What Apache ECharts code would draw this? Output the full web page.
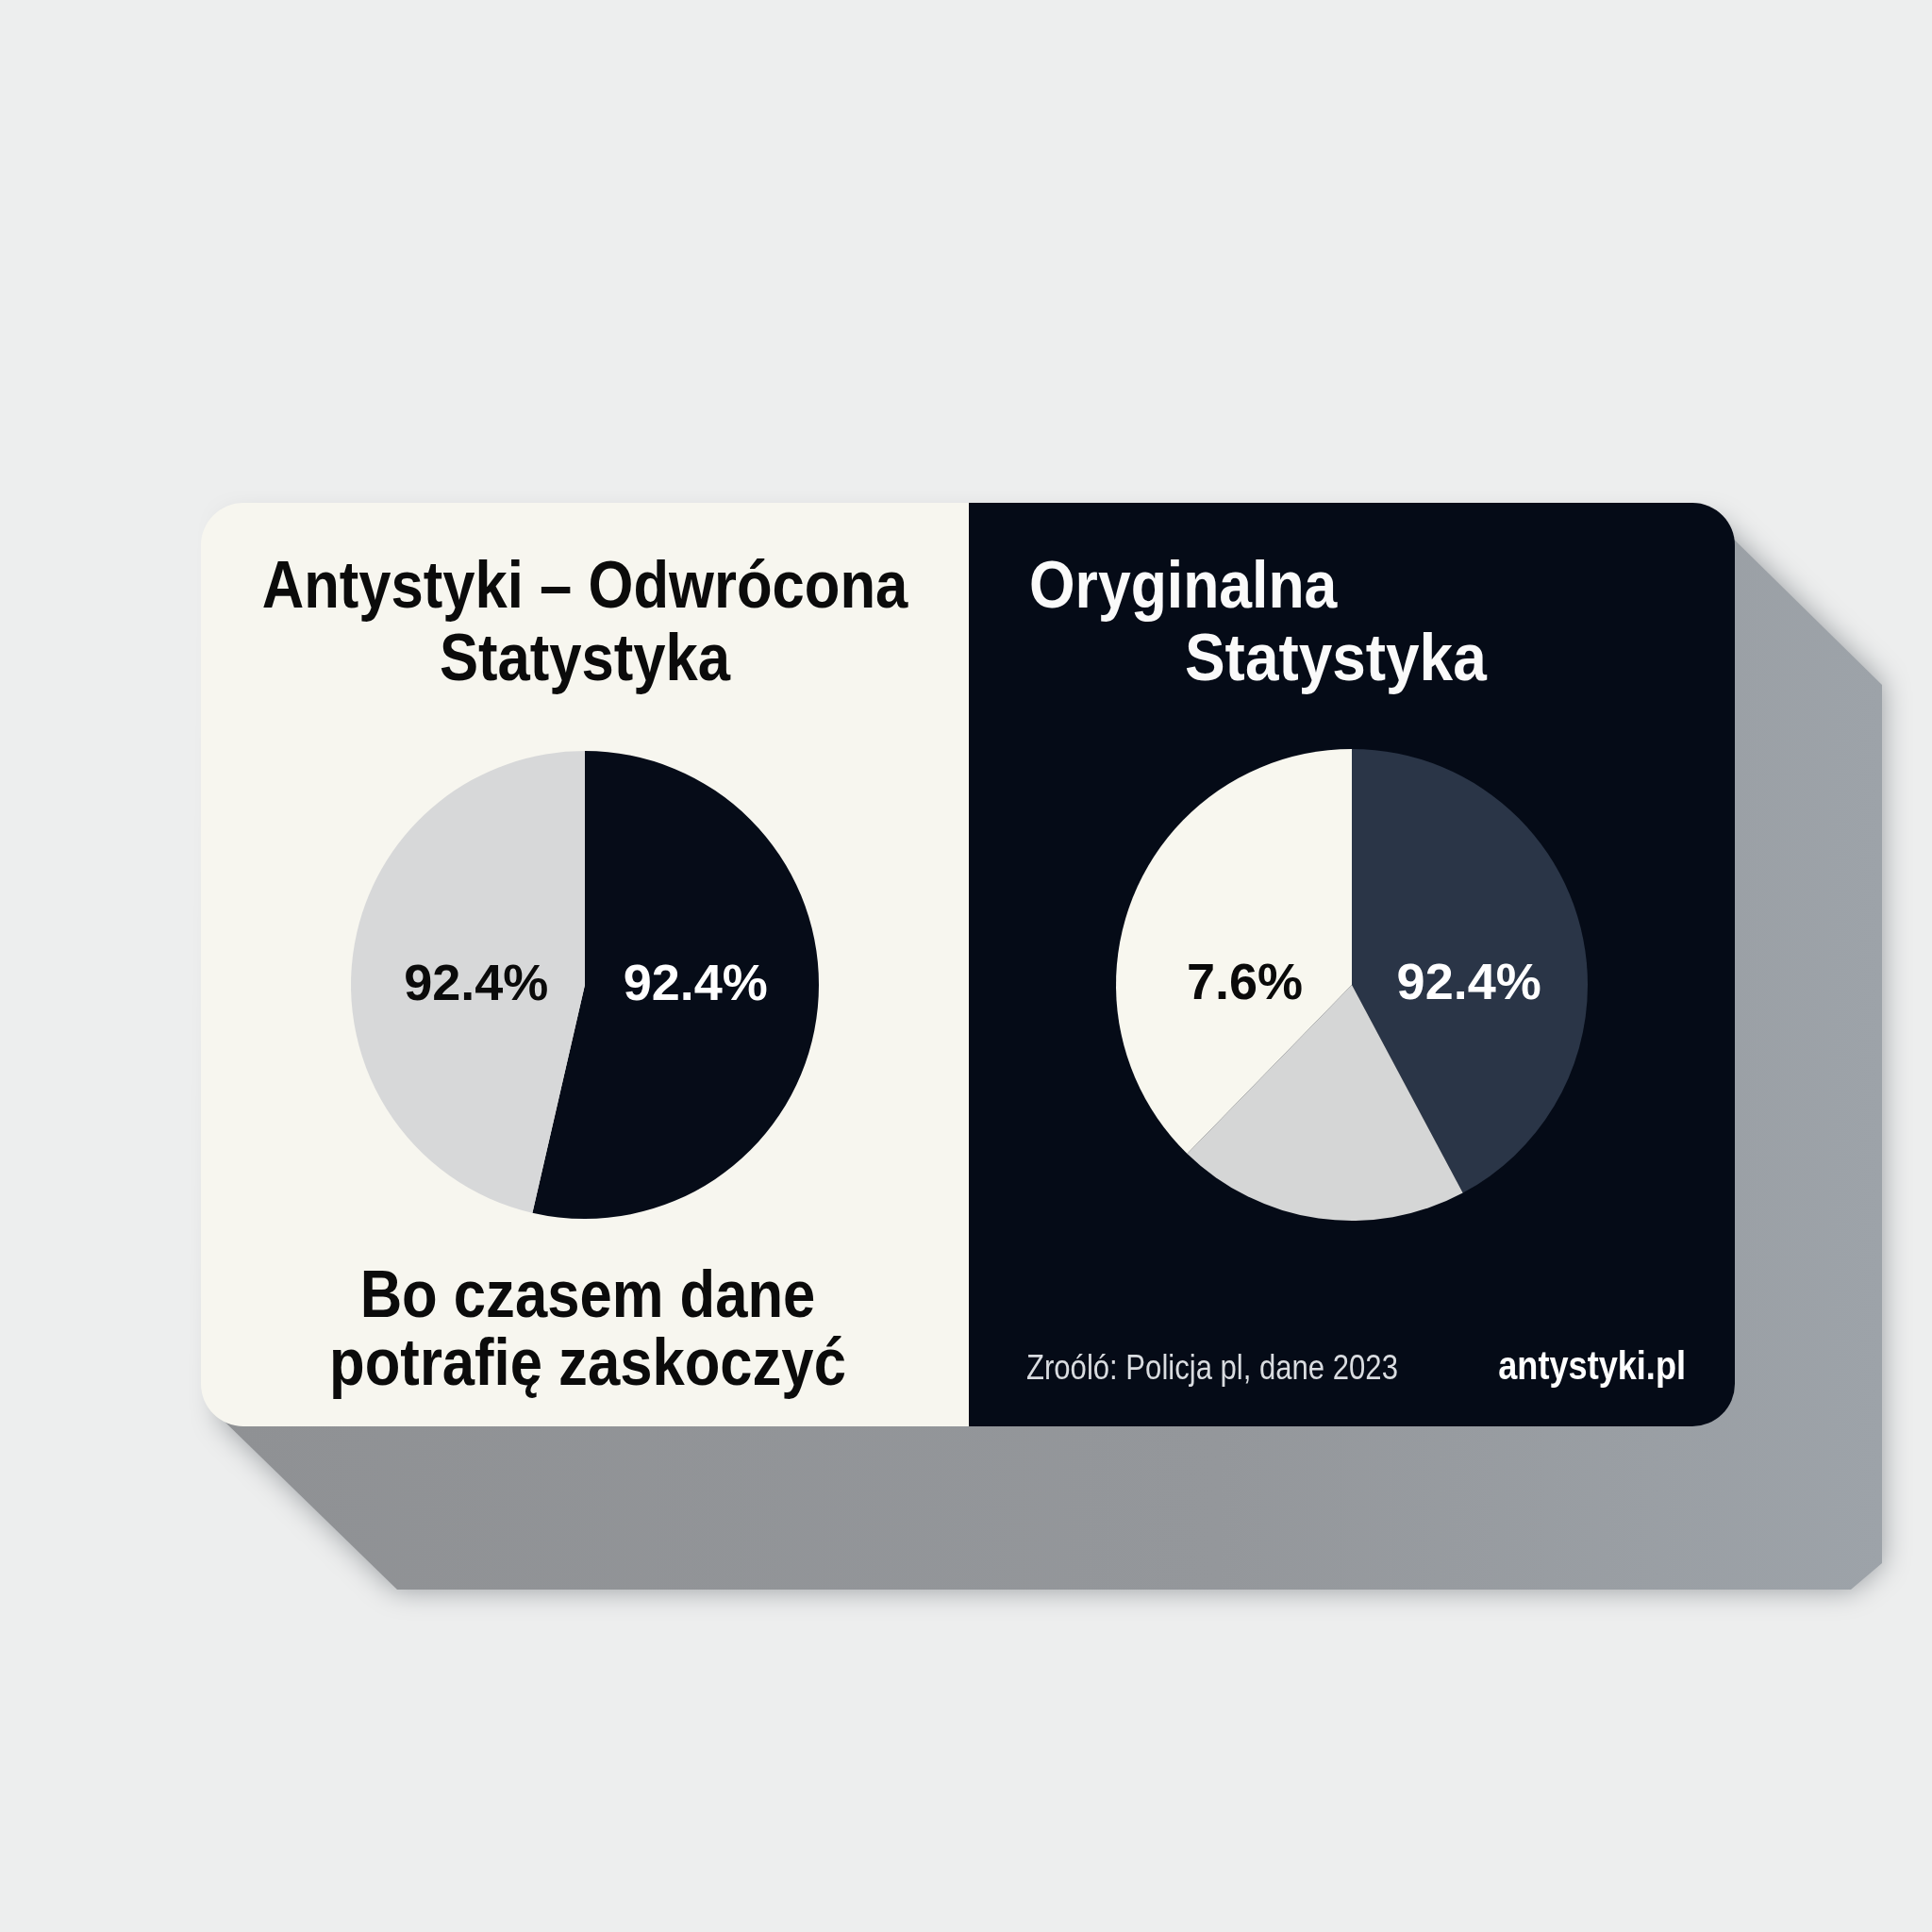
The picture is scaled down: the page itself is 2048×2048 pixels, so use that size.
<!DOCTYPE html>
<html>
<head>
<meta charset="utf-8">
<script src="https://cdn.jsdelivr.net/npm/echarts@6/dist/echarts.min.js"></script>
<style>
html,body{margin:0;padding:0;background:#edeeee;}
#chart{width:2048px;height:2048px;}
</style>
</head>
<body>
<div id="chart"></div>
<script>
// ---- data ----
var leftTitle = 'Antystyki – Odwrócona\nStatystyka';
var rightTitleLine1 = 'Oryginalna';
var rightTitleLine2 = 'Statystyka';
var taglineText = 'Bo czasem dane\npotrafię zaskoczyć';
var sourceText = 'Zroóló: Policja pl, dane 2023';
var brandText = 'antystyki.pl';

var leftCategories = ['Odwrócona A', 'Odwrócona B'];
var leftValues = [53.6, 46.4];
var leftLabels = ['92.4%', '92.4%'];

var rightCategories = ['Główna', 'Pozostałe', 'Mniejszość'];
var rightValues = [42.2, 20.1, 37.7];
var rightLabels = ['92.4%', '', '7.6%'];

// ---- styles ----
var SANS = "'Liberation Sans', Arial, sans-serif";
var leftColors = ['#060c18', '#d7d8d9'];
var leftLabelColors = ['#ffffff', '#0a0a0a'];
var leftOffsets = [[-9, -13], [11, 15]];
var rightColors = ['#2a3547', '#d5d6d6', '#f8f7ef'];
var rightLabelColors = ['#ffffff', '#0a0a0a', '#0a0a0a'];
var rightOffsets = [[0, 31], [0, 0], [5, 48]];

function buildData(cats, vals, labels, colors, lcolors, offsets) {
  return cats.map(function (c, i) {
    return {
      name: c,
      value: vals[i],
      itemStyle: { color: colors[i] },
      label: { formatter: labels[i], color: lcolors[i], offset: offsets[i], show: labels[i] !== '' }
    };
  });
}

var chart = echarts.init(document.getElementById('chart'), null, { renderer: 'canvas' });

var L = 213, T = 533, R = 1839, B = 1512, MID = 1027, DX = 168, DY = 185;

var option = {
  backgroundColor: '#edeeee',
  animation: false,
  graphic: [
    {
      type: 'polygon', z: 0,
      shape: { points: [[L + 30, T + 20], [R - 20, T + 20], [R + DX - 12, T + DY + 8], [R + DX - 12, B + DY - 40], [R + DX - 45, B + DY - 12], [L + DX + 40, B + DY - 12], [L + 20, B - 10]] },
      style: {
        fill: new echarts.graphic.LinearGradient(0, 0, 1, 0, [
          { offset: 0, color: '#8f9194' },
          { offset: 0.6, color: '#94979b' },
          { offset: 1, color: '#9da3a9' }
        ]),
        shadowBlur: 30, shadowColor: 'rgba(150,154,158,1)'
      }
    },
    {
      type: 'rect', z: 1,
      shape: { x: L, y: T, width: MID - L, height: B - T, r: [45, 0, 0, 45] },
      style: { fill: '#f7f6ef' }
    },
    {
      type: 'rect', z: 1,
      shape: { x: MID, y: T, width: R - MID, height: B - T, r: [0, 45, 45, 0] },
      style: { fill: '#050b17' }
    },
    {
      type: 'text', z: 5, x: 620, y: 663, scaleX: 0.88,
      style: { text: leftTitle, font: 'bold 70px ' + SANS, fill: '#0b0b0b', align: 'center', verticalAlign: 'middle', lineHeight: 77 }
    },
    {
      type: 'text', z: 5, x: 1091, y: 624, scaleX: 0.88,
      style: { text: rightTitleLine1, font: 'bold 71px ' + SANS, fill: '#fafafa', align: 'left', verticalAlign: 'middle' }
    },
    {
      type: 'text', z: 5, x: 1256, y: 701, scaleX: 0.9,
      style: { text: rightTitleLine2, font: 'bold 71px ' + SANS, fill: '#fafafa', align: 'left', verticalAlign: 'middle' }
    },
    {
      type: 'text', z: 5, x: 623, y: 1413, scaleX: 0.88,
      style: { text: taglineText, font: 'bold 70px ' + SANS, fill: '#0b0b0b', align: 'center', verticalAlign: 'middle', lineHeight: 72 }
    },
    {
      type: 'text', z: 5, x: 1088, y: 1452, scaleX: 0.84,
      style: { text: sourceText, font: '37px ' + SANS, fill: '#d9dce0', align: 'left', verticalAlign: 'middle' }
    },
    {
      type: 'text', z: 5, x: 1787, y: 1450, scaleX: 0.86,
      style: { text: brandText, font: 'bold 42px ' + SANS, fill: '#ffffff', align: 'right', verticalAlign: 'middle' }
    }
  ],
  series: [
    {
      type: 'pie', z: 3,
      center: [620, 1044], radius: [0, 248],
      startAngle: 90, clockwise: true,
      label: { show: true, position: 'inside', fontFamily: SANS, fontWeight: 'bold', fontSize: 54 },
      labelLine: { show: false },
      emphasis: { disabled: true },
      itemStyle: { borderWidth: 0 },
      data: buildData(leftCategories, leftValues, leftLabels, leftColors, leftLabelColors, leftOffsets)
    },
    {
      type: 'pie', z: 3,
      center: [1433, 1044], radius: [0, 250],
      startAngle: 90, clockwise: true,
      label: { show: true, position: 'inside', fontFamily: SANS, fontWeight: 'bold', fontSize: 54 },
      labelLine: { show: false },
      emphasis: { disabled: true },
      itemStyle: { borderWidth: 0 },
      data: buildData(rightCategories, rightValues, rightLabels, rightColors, rightLabelColors, rightOffsets)
    }
  ]
};
chart.setOption(option);
</script>
</body>
</html>
